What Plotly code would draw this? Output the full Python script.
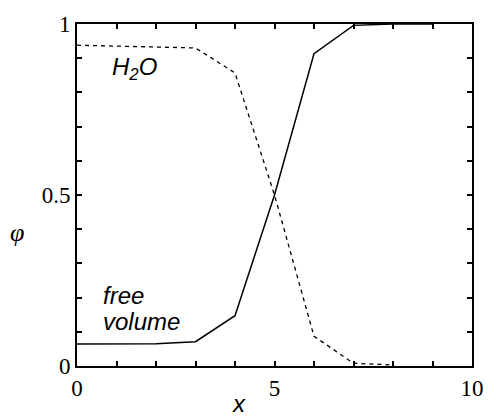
import plotly.graph_objects as go

x_free = [0, 1, 2, 3, 4, 5, 6, 7, 8, 9]
phi_free = [0.064, 0.064, 0.065, 0.071, 0.147, 0.5, 0.913, 0.996, 1.0, 1.0]
x_h2o = [0, 1, 2, 3, 4, 5, 6, 7, 8]
phi_h2o = [0.938, 0.936, 0.933, 0.93, 0.857, 0.5, 0.087, 0.008, 0.003]

x_tickvals = [0, 1, 2, 3, 4, 5, 6, 7, 8, 9, 10]
x_ticktext = ["0", "", "", "", "", "5", "", "", "", "", "10"]
y_tickvals = [0, 0.1, 0.2, 0.3, 0.4, 0.5, 0.6, 0.7, 0.8, 0.9, 1.0]
y_ticktext = ["0", "", "", "", "", "0.5", "", "", "", "", "1"]

BLACK = "#000000"

fig = go.Figure()
fig.add_trace(go.Scatter(x=x_free, y=phi_free, mode="lines",
                         line=dict(color=BLACK, width=1.5), showlegend=False))
fig.add_trace(go.Scatter(x=x_h2o, y=phi_h2o, mode="lines",
                         line=dict(color=BLACK, width=1.3, dash="4px,4px"), showlegend=False))

fig.update_layout(width=496, height=416, margin=dict(l=77, r=13, t=20, b=50),
                  plot_bgcolor="white")

tf = dict(family="Liberation Serif", size=23, color=BLACK)
axis_style = dict(ticks="inside", ticklen=5, tickcolor=BLACK, tickwidth=1.5,
                  showline=True, linecolor=BLACK, linewidth=2, mirror="ticks",
                  tickfont=tf, showgrid=False, zeroline=False)

fig.update_xaxes(range=[0, 10], tickmode="array", tickvals=x_tickvals, ticktext=x_ticktext, **axis_style)
fig.update_yaxes(range=[0, 1], tickmode="array", tickvals=y_tickvals, ticktext=y_ticktext, **axis_style)

sans = dict(family="Liberation Sans", size=24, color=BLACK)
fig.add_annotation(text="<i>φ</i>", xref="paper", yref="paper", x=-0.153, y=0.39,
                   xanchor="center", yanchor="middle", showarrow=False,
                   font=dict(family="Liberation Serif", size=26, color=BLACK))
fig.add_annotation(text="<i>x</i>", xref="paper", yref="paper", x=0.41, y=-0.11,
                   xanchor="center", yanchor="middle", showarrow=False, font=sans)
fig.add_annotation(text="<i>H<sub>2</sub>O</i>", xref="x", yref="y", x=1.45, y=0.87,
                   xanchor="center", yanchor="middle", showarrow=False, font=sans)
fig.add_annotation(text="<i>free</i>", xref="x", yref="y", x=0.6, y=0.205,
                   xanchor="left", yanchor="middle", showarrow=False, font=sans)
fig.add_annotation(text="<i>volume</i>", xref="x", yref="y", x=0.6, y=0.13,
                   xanchor="left", yanchor="middle", showarrow=False, font=sans)

fig.write_html("out.html")
